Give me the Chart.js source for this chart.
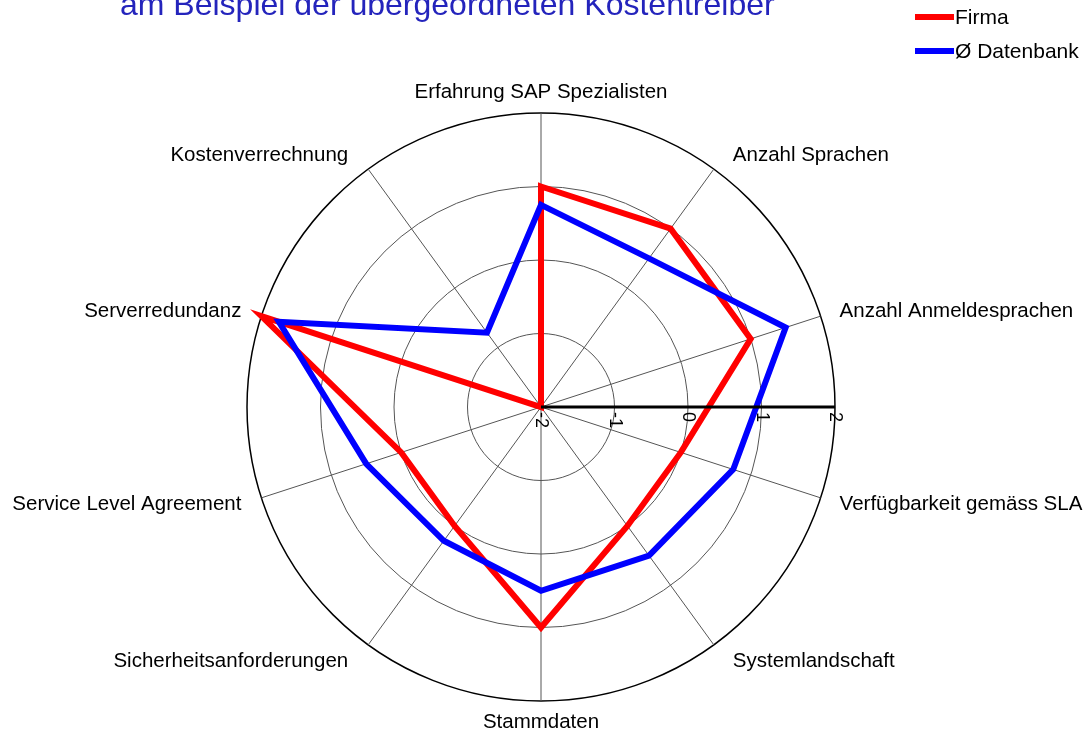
<!DOCTYPE html>
<html>
<head>
<meta charset="utf-8">
<script src="https://cdn.jsdelivr.net/npm/chart.js@4"></script>
<style>
  html, body { margin: 0; padding: 0; background: #fff; }
  #wrap { width: 1084px; height: 733px; position: relative; }
</style>
</head>
<body>
<div id="wrap"><canvas id="radar"></canvas></div>
<script>
const categories = [
  'Erfahrung SAP Spezialisten',
  'Anzahl Sprachen',
  'Anzahl Anmeldesprachen',
  'Verfügbarkeit gemäss SLA',
  'Systemlandschaft',
  'Stammdaten',
  'Sicherheitsanforderungen',
  'Service Level Agreement',
  'Serverredundanz',
  'Kostenverrechnung'
];
const firma = [1, 1, 1, 0, 0, 1, 0, 0, 2, -2];
const datenbank = [0.75, 0.5, 1.5, 0.75, 0.5, 0.5, 0.25, 0.5, 1.75, -0.75];
const tickValues = [-2, -1, 0, 1, 2];
const titleText = 'am Beispiel der übergeordneten Kostentreiber';

const FONT = '"Liberation Sans", Arial, sans-serif';

// title, legend, category labels, rotated tick labels and the thick axis line
const extras = {
  id: 'extras',
  afterDatasetsDraw(chart) {
    const { ctx } = chart;
    const r = chart.scales.r;
    const outer = r.getDistanceFromCenterForValue(tickValues[tickValues.length - 1]);

    ctx.save();
    // axis line along 0°
    ctx.strokeStyle = '#000';
    ctx.lineWidth = 3;
    ctx.beginPath();
    ctx.moveTo(r.xCenter, r.yCenter);
    ctx.lineTo(r.xCenter + outer, r.yCenter);
    ctx.stroke();

    // tick labels, turned by 90°
    ctx.fillStyle = '#000';
    ctx.font = `18px ${FONT}`;
    ctx.textAlign = 'left';
    ctx.textBaseline = 'middle';
    tickValues.forEach(v => {
      const x = r.xCenter + r.getDistanceFromCenterForValue(v);
      ctx.save();
      ctx.translate(x, r.yCenter + 5);
      ctx.rotate(Math.PI / 2);
      ctx.fillText(String(v), 0, 0);
      ctx.restore();
    });

    // category labels around the circle
    ctx.font = `20.5px ${FONT}`;
    ctx.textBaseline = 'middle';
    chart.data.labels.forEach((lbl, i) => {
      const p = r.getPointPosition(i, outer);
      const ang = r.getIndexAngle(i); // 0 at top, clockwise
      const s = Math.sin(ang), c = Math.cos(ang);
      let x = p.x, y = p.y;
      if (Math.abs(s) < 0.1) {
        ctx.textAlign = 'center';
        y -= c * 21;
      } else {
        ctx.textAlign = s > 0 ? 'left' : 'right';
        x += s > 0 ? 19 : -20;
        y -= c * (c < 0 ? 20 : 17);
      }
      ctx.fillText(lbl, x, y);
    });
    ctx.restore();
  },
  afterDraw(chart) {
    const { ctx } = chart;
    ctx.save();
    ctx.fillStyle = '#2424bc';
    ctx.font = `32px ${FONT}`;
    ctx.textAlign = 'left';
    ctx.textBaseline = 'alphabetic';
    ctx.fillText(titleText, 120, 15);

    // legend
    ctx.font = `21px ${FONT}`;
    ctx.textBaseline = 'middle';
    chart.data.datasets.forEach((ds, i) => {
      const y = 17 + i * 34;
      ctx.strokeStyle = ds.borderColor;
      ctx.lineWidth = 6;
      ctx.beginPath();
      ctx.moveTo(915, y);
      ctx.lineTo(954, y);
      ctx.stroke();
      ctx.fillStyle = '#000';
      ctx.fillText(ds.label, 955, y + 1);
    });
    ctx.restore();
  }
};

new Chart(document.getElementById('radar'), {
  type: 'radar',
  data: {
    labels: categories,
    datasets: [
      {
        label: 'Firma',
        data: firma,
        borderColor: '#ff0000',
        borderWidth: 6,
        borderJoinStyle: 'miter',
        fill: false,
        pointRadius: 0,
        order: 1
      },
      {
        label: 'Ø Datenbank',
        data: datenbank,
        borderColor: '#0000ff',
        borderWidth: 6,
        borderJoinStyle: 'miter',
        fill: false,
        pointRadius: 0,
        order: 0
      }
    ]
  },
  plugins: [extras],
  options: {
    responsive: true,
    maintainAspectRatio: false,
    animation: false,
    layout: { padding: { top: 113, bottom: 32, left: 0, right: 2 } },
    plugins: {
      legend: { display: false },
      tooltip: { enabled: false }
    },
    scales: {
      r: {
        min: -2,
        max: 2,
        ticks: { stepSize: 1, display: false },
        grid: {
          circular: true,
          color: ctx => ctx.tick && ctx.tick.value === 2 ? '#000' : '#555',
          lineWidth: ctx => ctx.tick && ctx.tick.value === 2 ? 1.5 : 1
        },
        angleLines: { color: '#555', lineWidth: 1 },
        pointLabels: { display: false }
      }
    }
  }
});
</script>
</body>
</html>
